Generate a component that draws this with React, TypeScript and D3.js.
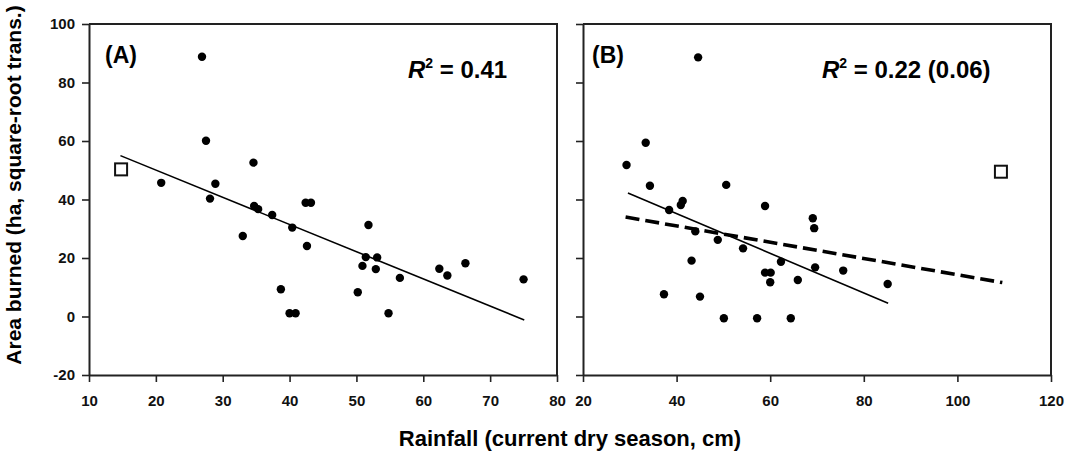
import React, { useEffect, useRef } from "react";
import * as d3 from "d3";

// Panel A: rainfall vs area burned
const rainA = [26.9, 27.5, 20.8, 28.9, 28.1, 34.6, 34.7, 35.3, 37.4, 42.4, 43.2, 40.4, 33.0, 42.6, 38.7, 40.0, 40.9, 51.8, 51.4, 53.1, 50.9, 52.9, 56.5, 50.2, 54.8, 62.4, 63.6, 66.3, 75.0];
const areaA = [88.8, 60.1, 45.7, 45.4, 40.3, 52.6, 37.8, 36.7, 34.7, 38.9, 38.9, 30.4, 27.5, 24.1, 9.3, 1.1, 1.1, 31.3, 20.3, 20.2, 17.3, 16.2, 13.2, 8.3, 1.1, 16.3, 14.0, 18.2, 12.7];
const outlierA = { x: 14.8, y: 50.3 };
const fitA = [{ x: 14.7, y: 55.0 }, { x: 75.1, y: -1.2 }];

// Panel B
const rainB = [44.6, 33.4, 29.3, 34.3, 50.6, 58.9, 41.3, 40.9, 38.4, 69.1, 69.4, 44.0, 48.8, 54.2, 43.2, 62.3, 58.9, 60.1, 60.0, 69.6, 65.9, 75.6, 85.1, 37.3, 45.0, 50.1, 57.2, 64.4];
const areaB = [88.6, 59.4, 51.8, 44.7, 45.0, 37.8, 39.5, 38.1, 36.4, 33.6, 30.2, 29.1, 26.2, 23.3, 19.1, 18.7, 15.0, 15.0, 11.7, 16.8, 12.5, 15.7, 11.1, 7.6, 6.8, -0.6, -0.6, -0.6];
const outlierB = { x: 109.3, y: 49.5 };
const fitB = [{ x: 29.6, y: 42.2 }, { x: 85.2, y: 4.5 }];
const fitBAll = [{ x: 29.1, y: 34.0 }, { x: 109.6, y: 11.6 }];

const yTicks = [-20, 0, 20, 40, 60, 80, 100];
const xTicksA = [10, 20, 30, 40, 50, 60, 70, 80];
const xTicksB = [20, 40, 60, 80, 100, 120];

type Pt = { x: number; y: number };

const App: React.FC = () => {
  const svgRef = useRef<SVGSVGElement | null>(null);

  useEffect(() => {
    const svg = d3.select(svgRef.current);
    svg.selectAll("*").remove();
    const font = "'Liberation Sans', Arial, sans-serif";
    const top = 24;
    const bottom = 375;

    const y = d3.scaleLinear().domain([-20, 100]).range([bottom, top]);

    const panels = [
      {
        x: d3.scaleLinear().domain([10, 80]).range([89, 557]),
        ticks: xTicksA, labels: true, xs: rainA, ys: areaA, out: outlierA,
        tag: "(A)", r2: "0.41", fits: [fitA],
      },
      {
        x: d3.scaleLinear().domain([20, 120]).range([583, 1051]),
        ticks: xTicksB, labels: false, xs: rainB, ys: areaB, out: outlierB,
        tag: "(B)", r2: "0.22 (0.06)", fits: [fitB, fitBAll],
      },
    ];

    panels.forEach((p, pi) => {
      const [x0, x1] = p.x.range();
      const g = svg.append("g");

      // frame (top and right)
      g.append("path")
        .attr("d", `M${x0},${top}H${x1}V${bottom}`)
        .attr("fill", "none")
        .attr("stroke", "#222")
        .attr("stroke-width", 2);

      const yAxis = g.append("g")
        .attr("transform", `translate(${x0},0)`)
        .call(
          d3.axisLeft(y).tickValues(yTicks).tickSize(7).tickSizeOuter(0).tickPadding(7)
            .tickFormat((d) => (p.labels ? String(d) : ""))
        );
      const xAxis = g.append("g")
        .attr("transform", `translate(0,${bottom})`)
        .call(
          d3.axisBottom(p.x).tickValues(p.ticks).tickSize(7).tickSizeOuter(0).tickPadding(13)
        );
      [yAxis, xAxis].forEach((a) => {
        a.select(".domain").attr("stroke", "#222").attr("stroke-width", 2);
        a.selectAll(".tick line").attr("stroke", "#222").attr("stroke-width", 1.6);
        a.selectAll("text")
          .attr("fill", "#111")
          .style("font-family", font)
          .style("font-size", "15px")
          .style("font-weight", "bold");
      });

      // regression lines
      const line = d3.line<Pt>().x((d) => p.x(d.x)).y((d) => y(d.y));
      p.fits.forEach((f, i) => {
        g.append("path")
          .attr("d", line(f)!)
          .attr("fill", "none")
          .attr("stroke", "#000")
          .attr("stroke-width", i === 0 ? 1.6 : 3.6)
          .attr("stroke-dasharray", i === 0 ? null : "14,6");
      });

      // points
      g.selectAll(".dot")
        .data(p.xs.map((v, i) => ({ x: v, y: p.ys[i] })))
        .enter()
        .append("circle")
        .attr("cx", (d) => p.x(d.x))
        .attr("cy", (d) => y(d.y))
        .attr("r", 4.2)
        .attr("fill", "#000");

      // excluded point
      g.append("rect")
        .attr("x", p.x(p.out.x) - 6)
        .attr("y", y(p.out.y) - 6)
        .attr("width", 12)
        .attr("height", 12)
        .attr("fill", "#fff")
        .attr("stroke", "#111")
        .attr("stroke-width", 2);

      g.append("text")
        .attr("x", x0 + 16 - pi * 7)
        .attr("y", 63)
        .style("font-family", font)
        .style("font-size", "23px")
        .style("font-weight", "bold")
        .text(p.tag);

      const r2 = g.append("text")
        .attr("x", pi === 0 ? 408 : 822)
        .attr("y", 78)
        .style("font-family", font)
        .style("font-size", "24px")
        .style("font-weight", "bold");
      r2.append("tspan").style("font-style", "italic").text("R");
      r2.append("tspan").attr("dy", -10).style("font-size", "14px").text("2");
      r2.append("tspan").attr("dy", 10).text(` = ${p.r2}`);
    });

    svg.append("text")
      .attr("x", 570)
      .attr("y", 446)
      .attr("text-anchor", "middle")
      .style("font-family", font)
      .style("font-size", "22px")
      .style("font-weight", "bold")
      .text("Rainfall (current dry season, cm)");

    svg.append("text")
      .attr("transform", "translate(21,185) rotate(-90)")
      .attr("text-anchor", "middle")
      .style("font-family", font)
      .style("font-size", "21px")
      .style("font-weight", "bold")
      .text("Area burned (ha, square-root trans.)");
  }, []);

  return (
    <svg
      ref={svgRef}
      width={1066}
      height={451}
      style={{ position: "absolute", left: 0, top: 0, background: "#fff" }}
    />
  );
};

export default App;
